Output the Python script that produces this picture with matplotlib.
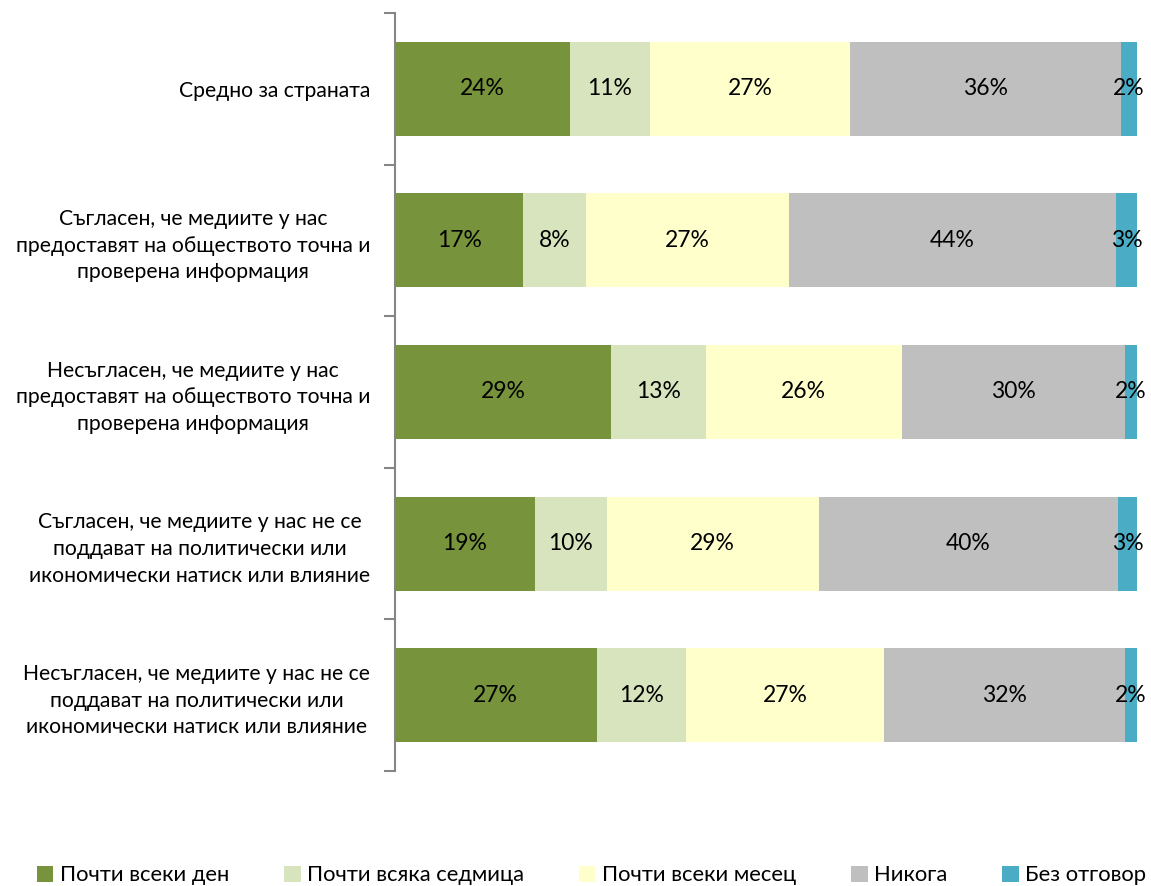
import matplotlib
matplotlib.use("Agg")
import matplotlib.pyplot as plt
import numpy as np

plt.rcParams['font.family'] = ['Lato', 'DejaVu Sans']

categories = [
    "Средно за страната",
    "Съгласен, че медиите у нас\nпредоставят на обществото точна и\nпроверена информация",
    "Несъгласен, че медиите у нас\nпредоставят на обществото точна и\nпроверена информация",
    "Съгласен, че медиите у нас не се\nподдават на политически или\nикономически натиск или влияние",
    "Несъгласен, че медиите у нас не се\nподдават на политически или\nикономически натиск или влияние",
]
series = ["Почти всеки ден", "Почти всяка седмица", "Почти всеки месец", "Никога", "Без отговор"]
every_day = [23.6, 17.3, 29.2, 18.9, 27.2]
every_week = [10.8, 8.4, 12.7, 9.7, 12.0]
every_month = [27.0, 27.4, 26.5, 28.6, 26.8]
never = [36.5, 44.2, 30.1, 40.4, 32.5]
no_answer = [2.2, 2.8, 1.6, 2.6, 1.6]
colors = ["#77933C", "#D7E4BD", "#FFFFCC", "#BFBFBF", "#4BACC6"]

data = np.array([every_day, every_week, every_month, never, no_answer])
data = data / data.sum(axis=0) * 100

fig = plt.figure(figsize=(11.51, 8.86), dpi=100)
ax = fig.add_axes([395/1151, 1-771/886, 742/1151, 758/886])

y = np.arange(len(categories))
left = np.zeros(len(categories))
for vals, name, col in zip(data, series, colors):
    ax.barh(y, vals, left=left, height=0.62, color=col, label=name)
    for yi, l, v in zip(y, left, vals):
        ax.text(l + v/2, yi, f"{int(round(v))}%", ha='center', va='center', fontsize=16.5, color='black')
    left += vals

ax.set_xlim(0, 100)
ax.set_ylim(len(categories) - 0.5, -0.5)
for s in ['top', 'right', 'bottom']:
    ax.spines[s].set_visible(False)
ax.spines['left'].set_color('#868686')
ax.spines['left'].set_linewidth(1.5)
ax.set_xticks([])
ax.set_yticks(np.arange(-0.5, len(categories)), minor=True)
ax.set_yticks(y)
ax.set_yticklabels(categories, fontsize=15.2, linespacing=1.42)
ax.tick_params(axis='y', which='major', length=0, pad=18)
ax.tick_params(axis='y', which='minor', length=8, width=1.5, color='#868686')
for lbl in ax.get_yticklabels():
    lbl.set_horizontalalignment('right')
    lbl.set_multialignment('center')

fig.legend(loc='center', bbox_to_anchor=(0.514, 0.012), ncol=5, frameon=False,
           fontsize=15.8, handlelength=0.75, handleheight=0.75, handletextpad=0.3,
           columnspacing=2.5)

fig.savefig("out.png", dpi=100)
